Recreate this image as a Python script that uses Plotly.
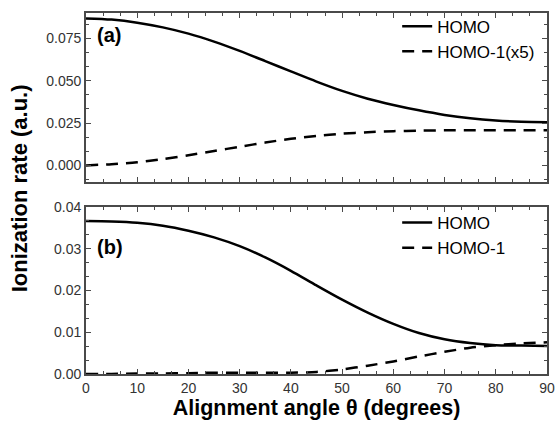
import plotly.graph_objects as go

angle = [0, 5, 10, 15, 20, 25, 30, 35, 40, 45, 50, 55, 60, 65, 70, 75, 80, 85, 90]

homo_a = [0.0868, 0.0861, 0.0843, 0.0815, 0.0778, 0.0731, 0.0676, 0.0616, 0.0555,
          0.0495, 0.0440, 0.0394, 0.0357, 0.0325, 0.0298, 0.0278, 0.0265, 0.0258, 0.0255]
homo1_a = [0.0000, 0.0007, 0.0018, 0.0037, 0.0060, 0.0085, 0.0110, 0.0135, 0.0157,
           0.0174, 0.0187, 0.0196, 0.0202, 0.0205, 0.0207, 0.0207, 0.0207, 0.0207, 0.0207]

homo_b = [0.0366, 0.0365, 0.0362, 0.0355, 0.0343, 0.0327, 0.0306, 0.0279, 0.0247,
          0.0212, 0.0178, 0.0147, 0.0120, 0.0098, 0.0083, 0.0074, 0.0069, 0.0068, 0.0067]
homo1_b = [0.0000, 0.00003, 0.0001, 0.00012, 0.0002, 0.0003, 0.0003, 0.0003, 0.0003,
           0.0005, 0.0011, 0.0020, 0.0030, 0.0042, 0.0053, 0.0063, 0.0069, 0.0073, 0.0076]

names_a = ["HOMO", "HOMO-1(x5)"]
names_b = ["HOMO", "HOMO-1"]

FONT = "Liberation Sans, Arial, sans-serif"
FRAME = "#4a4a4a"
DASH = "12px,8px"

fig = go.Figure()
fig.add_trace(go.Scatter(x=angle, y=homo_a, mode="lines", name=names_a[0],
                         line=dict(color="black", width=2.5, shape="spline", smoothing=0.8),
                         xaxis="x", yaxis="y", legend="legend"))
fig.add_trace(go.Scatter(x=angle, y=homo1_a, mode="lines", name=names_a[1],
                         line=dict(color="black", width=2.5, dash=DASH, shape="spline", smoothing=0.8),
                         xaxis="x", yaxis="y", legend="legend"))
fig.add_trace(go.Scatter(x=angle, y=homo_b, mode="lines", name=names_b[0],
                         line=dict(color="black", width=2.5, shape="spline", smoothing=0.8),
                         xaxis="x2", yaxis="y2", legend="legend2"))
fig.add_trace(go.Scatter(x=angle, y=homo1_b, mode="lines", name=names_b[1],
                         line=dict(color="black", width=2.5, dash=DASH, shape="spline", smoothing=0.8),
                         xaxis="x2", yaxis="y2", legend="legend2"))

common_axis = dict(showline=True, linecolor=FRAME, linewidth=1.8, mirror="ticks",
                   ticks="inside", ticklen=5, tickwidth=1, tickcolor=FRAME,
                   showgrid=False, zeroline=False, ticklabeloverflow="allow",
                   tickfont=dict(family=FONT, size=14, color="#333333"))

xcommon = dict(common_axis, range=[0, 90], tick0=0, dtick=10,
               minor=dict(dtick=10/3, ticks="inside", ticklen=3, tickcolor=FRAME, showgrid=False))

fig.update_layout(
    width=560, height=432,
    margin=dict(l=86, r=5, t=7, b=58),
    paper_bgcolor="white", plot_bgcolor="white",
    showlegend=True,
    xaxis=dict(xcommon, anchor="y", showticklabels=False, matches="x2"),
    xaxis2=dict(xcommon, anchor="y2",
                title=dict(text="<b>Alignment angle θ (degrees)</b>",
                           font=dict(family=FONT, size=21.5, color="black"), standoff=5)),
    yaxis=dict(common_axis, domain=[0.531, 1.0], range=[-0.01, 0.09], tick0=0, dtick=0.025,
               tickformat=".3f", anchor="x",
               minor=dict(dtick=0.025/3, ticks="inside", ticklen=3, tickcolor=FRAME, showgrid=False)),
    yaxis2=dict(common_axis, domain=[0.0, 0.463], range=[0, 0.04], tick0=0, dtick=0.01,
                tickformat=".2f", anchor="x2",
                minor=dict(dtick=0.01/3, ticks="inside", ticklen=3, tickcolor=FRAME, showgrid=False)),
    legend=dict(x=0.675, y=1.012, xanchor="left", yanchor="top", bgcolor="rgba(0,0,0,0)",
                font=dict(family=FONT, size=17, color="black"), tracegroupgap=0,
                itemwidth=30),
    legend2=dict(x=0.675, y=0.468, xanchor="left", yanchor="top", bgcolor="rgba(0,0,0,0)",
                 font=dict(family=FONT, size=17, color="black"), tracegroupgap=0,
                 itemwidth=30),
    annotations=[
        dict(text="<b>Ionization rate (a.u.)</b>", xref="paper", yref="paper",
             x=-0.145, y=0.515, textangle=-90, showarrow=False, xanchor="center", yanchor="middle",
             font=dict(family=FONT, size=22, color="black")),
        dict(text="<b>(a)</b>", xref="x domain", yref="y domain", x=0.02, y=0.87,
             showarrow=False, xanchor="left", yanchor="middle",
             font=dict(family=FONT, size=20, color="black")),
        dict(text="<b>(b)</b>", xref="x2 domain", yref="y2 domain", x=0.02, y=0.76,
             showarrow=False, xanchor="left", yanchor="middle",
             font=dict(family=FONT, size=20, color="black")),
    ],
)

fig.write_html("out.html")
